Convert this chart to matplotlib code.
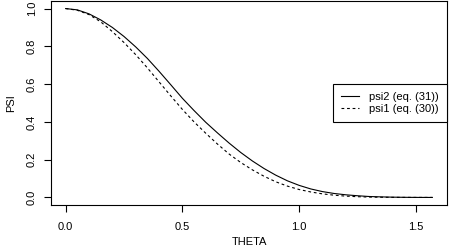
import matplotlib
matplotlib.use("Agg")
import matplotlib.pyplot as plt

# values
theta = [0.00, 0.05, 0.10, 0.15, 0.20, 0.25, 0.30, 0.35, 0.40, 0.45,
         0.50, 0.55, 0.60, 0.65, 0.70, 0.75, 0.80, 0.85, 0.90, 0.95,
         1.00, 1.05, 1.10, 1.15, 1.20, 1.25, 1.30, 1.35, 1.40, 1.45,
         1.50, 1.5708]
psi2 = [1.000, 0.993, 0.972, 0.940, 0.900, 0.852, 0.797, 0.736, 0.668, 0.597,
        0.525, 0.460, 0.398, 0.342, 0.288, 0.238, 0.193, 0.153, 0.118, 0.088,
        0.064, 0.045, 0.031, 0.021, 0.014, 0.009, 0.005, 0.003, 0.0015, 0.0007,
        0.0002, 0.0]
psi1 = [1.000, 0.991, 0.968, 0.930, 0.878, 0.820, 0.756, 0.686, 0.612, 0.538,
        0.466, 0.400, 0.340, 0.283, 0.230, 0.185, 0.146, 0.112, 0.083, 0.060,
        0.042, 0.029, 0.019, 0.012, 0.007, 0.004, 0.002, 0.001, 0.0005, 0.0002,
        0.0001, 0.0]
xticks = [0.0, 0.5, 1.0, 1.5]
yticks = [0.0, 0.2, 0.4, 0.6, 0.8, 1.0]

plt.rcParams["font.family"] = ["Liberation Sans", "DejaVu Sans"]
plt.rcParams["font.size"] = 8

fig = plt.figure(figsize=(4.49, 2.5), dpi=100)
ax = fig.add_axes([51 / 449, 1 - 205 / 250, (447 - 51) / 449, 204 / 250])

ax.plot(theta, psi2, color="black", lw=0.8, label="psi2 (eq. (31))")
ax.plot(theta, psi1, color="black", lw=0.8, ls=(0, (2.5, 2.5)), label="psi1 (eq. (30))")

pad_x = 0.04 * (theta[-1] - theta[0])
ax.set_xlim(theta[0] - pad_x, theta[-1] + pad_x)
ax.set_ylim(-0.04, 1.04)
ax.set_xticks(xticks)
ax.set_xticklabels([f"{t:.1f}" for t in xticks])
ax.set_yticks(yticks)
ax.set_yticklabels([f"{t:.1f}" for t in yticks], rotation=90, va="center")
ax.tick_params(direction="out", length=5, width=0.8, color="black")
ax.tick_params(axis="x", pad=7)
ax.tick_params(axis="y", pad=5)
for s in ax.spines.values():
    s.set_linewidth(0.8)
    s.set_color("black")

ax.set_xlabel("THETA", labelpad=4)
ax.set_ylabel("PSI", labelpad=8)

leg = ax.legend(loc="center right", borderaxespad=0, fancybox=False,
                edgecolor="black", framealpha=1, handlelength=1.6,
                handletextpad=0.9, borderpad=0.75, labelspacing=0.2)
leg.get_frame().set_linewidth(0.8)

fig.savefig("out.png", dpi=100)
